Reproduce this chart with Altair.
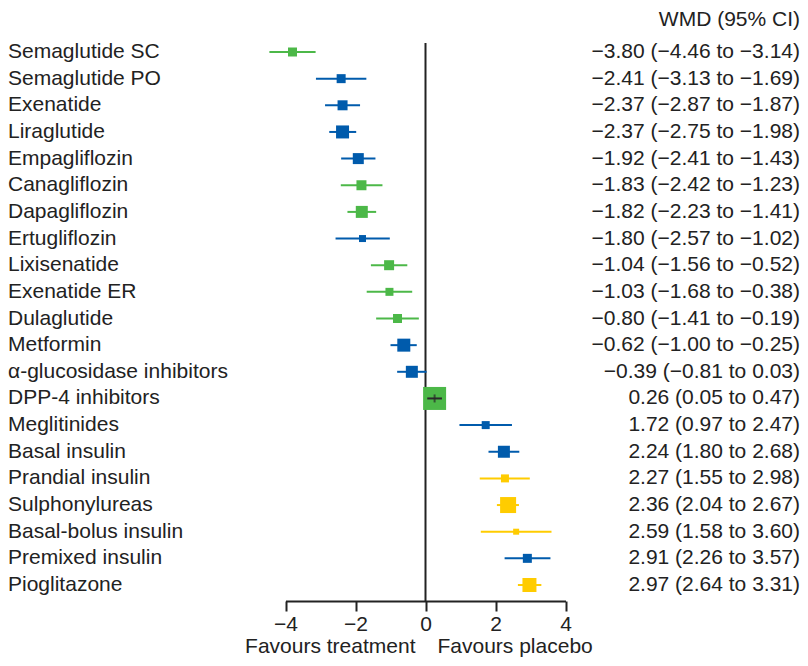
import altair as alt
import pandas as pd

names = ["Semaglutide SC", "Semaglutide PO", "Exenatide", "Liraglutide", "Empagliflozin",
         "Canagliflozin", "Dapagliflozin", "Ertugliflozin", "Lixisenatide", "Exenatide ER",
         "Dulaglutide", "Metformin", "\u03b1-glucosidase inhibitors", "DPP-4 inhibitors",
         "Meglitinides", "Basal insulin", "Prandial insulin", "Sulphonylureas",
         "Basal-bolus insulin", "Premixed insulin", "Pioglitazone"]
wmd = [-3.80, -2.41, -2.37, -2.37, -1.92, -1.83, -1.82, -1.80, -1.04, -1.03, -0.80,
       -0.62, -0.39, 0.26, 1.72, 2.24, 2.27, 2.36, 2.59, 2.91, 2.97]
lo = [-4.46, -3.13, -2.87, -2.75, -2.41, -2.42, -2.23, -2.57, -1.56, -1.68, -1.41,
      -1.00, -0.81, 0.05, 0.97, 1.80, 1.55, 2.04, 1.58, 2.26, 2.64]
hi = [-3.14, -1.69, -1.87, -1.98, -1.43, -1.23, -1.41, -1.02, -0.52, -0.38, -0.19,
      -0.25, 0.03, 0.47, 2.47, 2.68, 2.98, 2.67, 3.60, 3.57, 3.31]
group = ["G", "B", "B", "B", "B", "G", "G", "B", "G", "G", "G", "B", "B", "G",
         "B", "B", "Y", "Y", "Y", "B", "Y"]
weight_side = [9, 9, 10, 13, 11, 10, 12, 7, 10, 8, 9, 13, 12, 23, 8, 12, 8, 16, 6, 9, 14]
x_ticks = [-4, -2, 0, 2, 4]


def fmt(v):
    return f"{v:.2f}".replace("-", "\u2212")


df = pd.DataFrame({
    "name": names, "wmd": wmd, "lo": lo, "hi": hi, "group": group,
    "msize": [s * s for s in weight_side],
    "label": [f"{fmt(w)} ({fmt(l)} to {fmt(h)})" for w, l, h in zip(wmd, lo, hi)],
})

FONT = "Liberation Sans"
FS = 21
TXT = "#222222"
RIGHT_X = 792

xscale = alt.Scale(domain=[-4, 4], range=[277.5, 557.5], nice=False, zero=False)
yscale = alt.Scale(type="point", range=[44, 577], padding=0)
cscale = alt.Scale(domain=["G", "B", "Y"], range=["#4CB848", "#005BAC", "#FFCC00"])

base = alt.Chart(df)
Y = alt.Y("name:N", sort=names, scale=yscale, axis=None)

zero_line = alt.Chart(pd.DataFrame({"x": [0]})).mark_rule(
    color="#222222", strokeWidth=2
).encode(
    x=alt.X("x:Q", scale=xscale,
            axis=alt.Axis(values=x_ticks, format="d", title=None, grid=False, tickSize=10,
                          tickWidth=2, domainWidth=2, domainColor="#222222",
                          tickColor="#222222", labelFont=FONT, labelFontSize=FS,
                          labelColor=TXT, labelPadding=2, labelFlush=False)),
    y=alt.value(35), y2=alt.value(593),
)

ci = base.mark_rule(strokeWidth=2).encode(
    x=alt.X("lo:Q", scale=xscale), x2="hi:Q", y=Y,
    color=alt.Color("group:N", scale=cscale, legend=None),
)

squares = base.mark_point(shape="square", filled=True, opacity=1).encode(
    x=alt.X("wmd:Q", scale=xscale), y=Y,
    color=alt.Color("group:N", scale=cscale, legend=None),
    size=alt.Size("msize:Q", scale=None, legend=None),
)

inner = base.transform_filter(alt.datum.name == "DPP-4 inhibitors")
inner_ci = inner.mark_rule(strokeWidth=2, color="#2a2a2a").encode(
    x=alt.X("lo:Q", scale=xscale), x2="hi:Q", y=Y,
)
inner_tick = inner.mark_tick(size=8, thickness=2, color="#2a2a2a", orient="vertical").encode(
    x=alt.X("wmd:Q", scale=xscale), y=Y,
)

left_text = base.mark_text(align="left", baseline="middle", font=FONT, fontSize=FS,
                           color=TXT).encode(
    x=alt.value(0), y=Y, text="name:N",
)
right_text = base.mark_text(align="right", baseline="middle", font=FONT, fontSize=FS,
                            color=TXT).encode(
    x=alt.value(RIGHT_X), y=Y, text="label:N",
)

header = alt.Chart(pd.DataFrame({"t": ["WMD (95% CI)"]})).mark_text(
    align="right", baseline="middle", font=FONT, fontSize=FS, color=TXT
).encode(x=alt.value(RIGHT_X), y=alt.value(12), text="t:N")

fav = alt.Chart(pd.DataFrame({"t": ["Favours treatment", "Favours placebo"],
                              "x": [0, 0]}))
fav_left = fav.transform_filter(alt.datum.t == "Favours treatment").mark_text(
    align="right", baseline="alphabetic", font=FONT, fontSize=FS, color=TXT, dx=-10
).encode(x=alt.X("x:Q", scale=xscale), y=alt.value(645), text="t:N")
fav_right = fav.transform_filter(alt.datum.t == "Favours placebo").mark_text(
    align="left", baseline="alphabetic", font=FONT, fontSize=FS, color=TXT, dx=12
).encode(x=alt.X("x:Q", scale=xscale), y=alt.value(645), text="t:N")

chart = alt.layer(
    zero_line, ci, squares, inner_ci, inner_tick, left_text, right_text, header,
    fav_left, fav_right
).properties(
    width=792, height=593,
    autosize=alt.AutoSizeParams(type="none"),
    padding={"left": 0, "top": 0, "right": 0, "bottom": 57},
).configure_view(stroke=None)

chart.save("out.html", embed_options={"renderer": "svg", "actions": False})
